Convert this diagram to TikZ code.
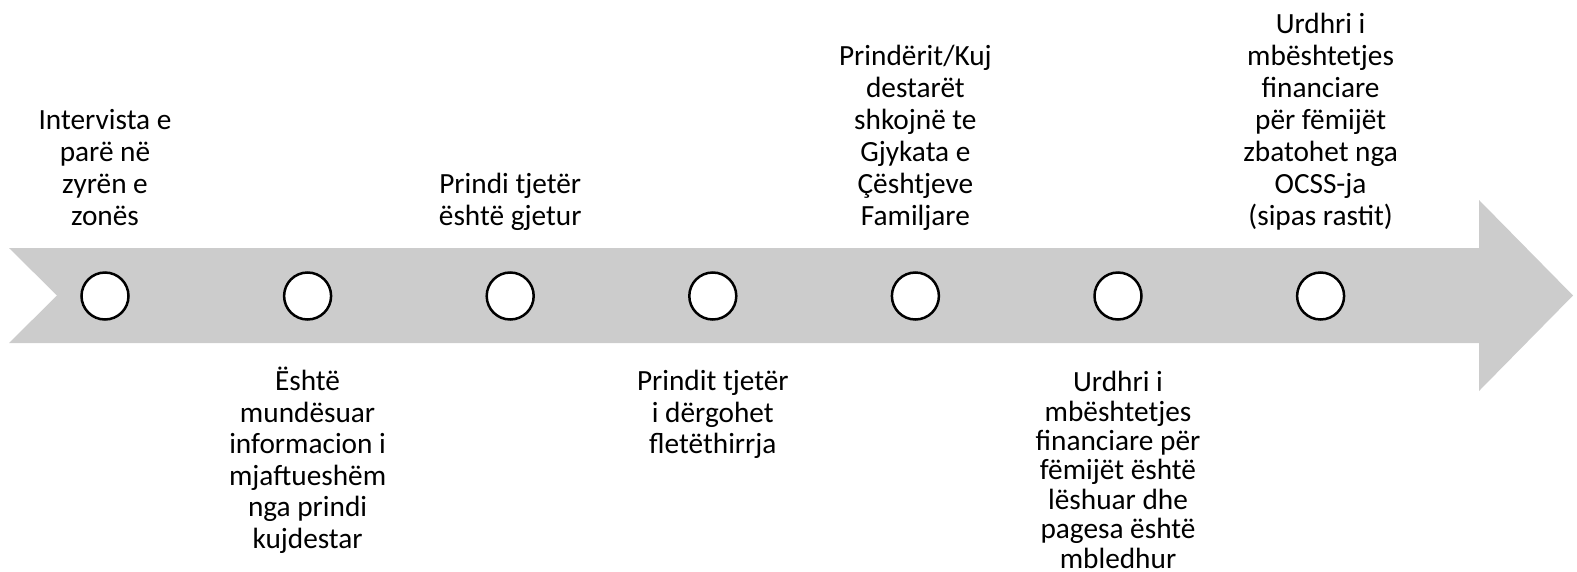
\documentclass[tikz,border=0pt]{standalone}
\usepackage{fontspec}
\setmainfont{Carlito}
\begin{document}
\begin{tikzpicture}[x=1pt,y=-1pt,
  dot/.style={circle,draw=black,line width=2.5pt,fill=white,minimum size=47pt,inner sep=0pt},
  toplab/.style={inner sep=0pt,anchor=base,font=\fontsize{29.3}{32}\selectfont},
  botlab/.style={inner sep=0pt,anchor=base,font=\fontsize{29.3}{31.5}\selectfont},
  botlabtight/.style={inner sep=0pt,anchor=base,font=\fontsize{29.3}{29.4}\selectfont}]
\useasboundingbox (0,0) rectangle (1577,571);
% arrow band
\fill[fill={rgb,255:red,204;green,204;blue,204}]
  (9,248) -- (1479,248) -- (1479,200) -- (1573,295.5) -- (1479,391) -- (1479,343)
  -- (9,343) -- (57,295.5) -- cycle;
% circles
\foreach \i in {1,...,7}{
  \node[dot] (c\i) at ({105+202.6*(\i-1)},296) {};
}
% top labels (base = baseline of last line)
\node[toplab] (t1) at (105,225.5) {\begin{tabular}[b]{@{}c@{}}Intervista e\\parë në\\zyrën e\\zonës\end{tabular}};
\node[toplab] (t3) at ({105+202.6*2},225.5) {\begin{tabular}[b]{@{}c@{}}Prindi tjetër\\është gjetur\end{tabular}};
\node[toplab] (t5) at ({105+202.6*4},225.5) {\begin{tabular}[b]{@{}c@{}}Prindërit/Kuj\\destarët\\shkojnë te\\Gjykata e\\Çështjeve\\Familjare\end{tabular}};
\node[toplab] (t7) at ({105+202.6*6},225.5) {\begin{tabular}[b]{@{}c@{}}Urdhri i\\mbështetjes\\financiare\\për fëmijët\\zbatohet nga\\OCSS-ja\\(sipas rastit)\end{tabular}};
% bottom labels (base = baseline of first line)
\node[botlab] (b2) at ({105+202.6*1},390.7) {\begin{tabular}[t]{@{}c@{}}Është\\mundësuar\\informacion i\\mjaftueshëm\\nga prindi\\kujdestar\end{tabular}};
\node[botlab] (b4) at ({105+202.6*3},390.7) {\begin{tabular}[t]{@{}c@{}}Prindit tjetër\\i dërgohet\\fletëthirrja\end{tabular}};
\node[botlabtight] (b6) at ({105+202.6*5},391.7) {\begin{tabular}[t]{@{}c@{}}Urdhri i\\mbështetjes\\financiare për\\fëmijët është\\lëshuar dhe\\pagesa është\\mbledhur\end{tabular}};
\end{tikzpicture}
\end{document}
